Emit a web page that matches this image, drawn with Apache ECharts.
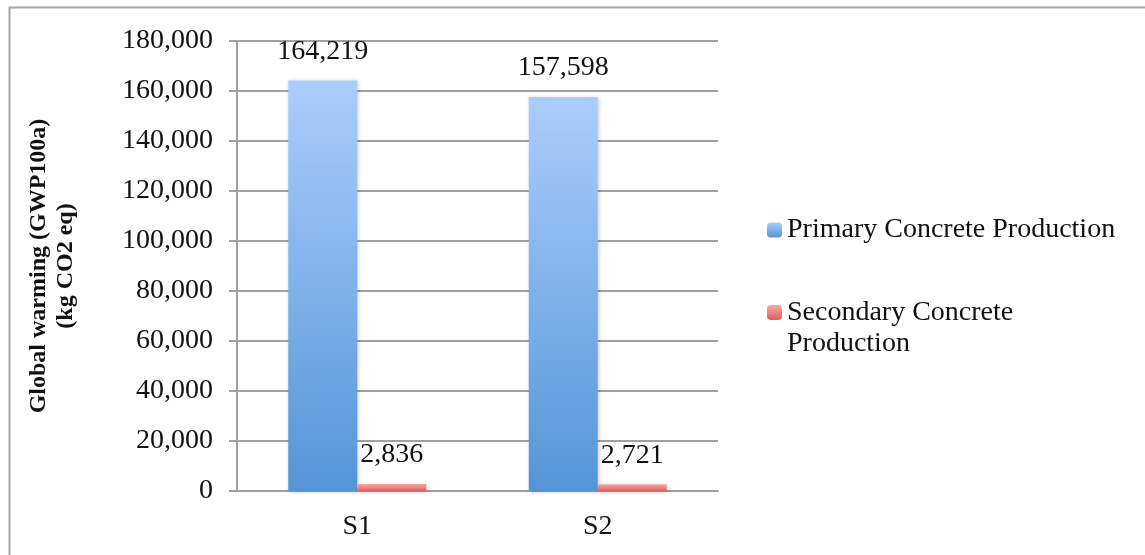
<!DOCTYPE html>
<html><head><meta charset="utf-8">
<script src="https://cdn.jsdelivr.net/npm/echarts@6/dist/echarts.min.js"></script>
<style>html,body{margin:0;padding:0;background:#fff}#c{width:1145px;height:555px}</style>
</head><body><div id="c"></div>
<script>
const categories = ['S1', 'S2'];
const primaryValues = [164219, 157598];
const secondaryValues = [2836, 2721];
const seriesNames = ['Primary Concrete Production', 'Secondary Concrete Production'];
const yMin = 0, yMax = 180000, yInterval = 20000;

const FONT = '"Liberation Serif", serif';
const FS = 28;
const fmt = v => Number(v).toLocaleString('en-US');
const chart = echarts.init(document.getElementById('c'), null, {renderer: 'canvas'});
const blueGrad = new echarts.graphic.LinearGradient(0, 0, 0, 1, [
  {offset: 0, color: '#abcdfb'}, {offset: 1, color: '#5495d7'}]);
const redGrad = new echarts.graphic.LinearGradient(0, 0, 0, 1, [
  {offset: 0, color: '#f7a9a6'}, {offset: 1, color: '#df5f5c'}]);
chart.setOption({
  animation: false,
  backgroundColor: '#fff',
  graphic: [{type: 'rect', left: 7, top: 5, shape: {width: 1160, height: 600},
    style: {fill: 'none', stroke: '#a6a6a6', lineWidth: 2}, silent: true}],
  grid: {left: 237, right: 427, top: 41, bottom: 64, containLabel: false},
  legend: [{
    data: [seriesNames[0]], orient: 'vertical', left: 762, top: 211,
    itemWidth: 15, itemHeight: 15, itemGap: 0,
    textStyle: {fontFamily: FONT, fontSize: FS, color: '#111'}
  }, {
    data: [seriesNames[1]], orient: 'vertical', left: 762, top: 261,
    itemWidth: 15, itemHeight: 15,
    formatter: n => '{e| }\n{a|Secondary Concrete}\n{a|Production}',
    textStyle: {fontFamily: FONT, fontSize: FS, color: '#111',
      rich: {
        e: {height: 31, lineHeight: 31, fontSize: 10},
        a: {fontFamily: FONT, fontSize: FS, color: '#111', lineHeight: 31, height: 31}
      }}
  }],
  xAxis: {
    type: 'category', data: categories,
    axisLine: {show: true, lineStyle: {color: '#a0a0a0', width: 2}},
    axisTick: {show: false},
    axisLabel: {fontFamily: FONT, fontSize: FS, color: '#111', margin: 22}
  },
  yAxis: {
    type: 'value', min: yMin, max: yMax, interval: yInterval,
    name: 'Global warming (GWP100a)\n(kg CO2 eq)',
    nameLocation: 'middle', nameGap: 158, nameRotate: 90,
    nameTextStyle: {fontFamily: FONT, fontSize: 24, fontWeight: 'bold', color: '#111', lineHeight: 27},
    axisLine: {show: true, lineStyle: {color: '#a0a0a0', width: 2}},
    axisTick: {show: true, length: 8, lineStyle: {color: '#a0a0a0', width: 2}},
    splitLine: {lineStyle: {color: '#a0a0a0', width: 2}},
    axisLabel: {fontFamily: FONT, fontSize: FS, color: '#111', margin: 24, formatter: fmt}
  },
  series: [{
    name: seriesNames[0], type: 'bar', data: primaryValues, barWidth: 69, barGap: '0%',
    itemStyle: {color: blueGrad, shadowColor: 'rgba(0,0,0,0.2)', shadowBlur: 4, shadowOffsetX: 1, shadowOffsetY: 1},
    label: {show: true, position: 'top', distance: 15, formatter: p => fmt(p.value),
      fontFamily: FONT, fontSize: FS, color: '#111'}
  }, {
    name: seriesNames[1], type: 'bar', data: secondaryValues, barWidth: 69,
    itemStyle: {color: redGrad, shadowColor: 'rgba(0,0,0,0.2)', shadowBlur: 4, shadowOffsetX: 1, shadowOffsetY: 1},
    label: {show: true, position: 'top', distance: 15, formatter: p => fmt(p.value),
      fontFamily: FONT, fontSize: FS, color: '#111'}
  }]
});
</script></body></html>
